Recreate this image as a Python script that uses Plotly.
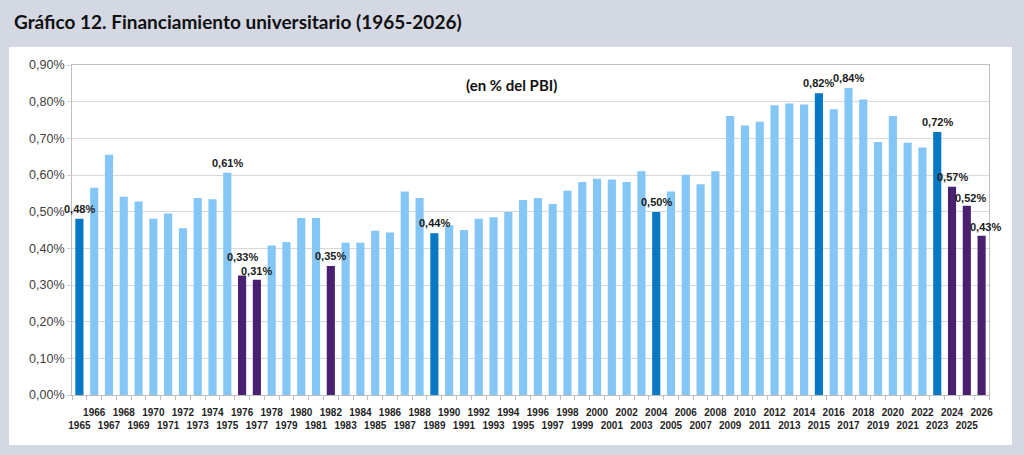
import plotly.graph_objects as go

years = list(range(1965, 2027))
values = [0.481, 0.565, 0.655, 0.541, 0.528, 0.481, 0.495, 0.455, 0.537, 0.534,
          0.606, 0.326, 0.314, 0.408, 0.417, 0.483, 0.483, 0.352, 0.415, 0.415,
          0.448, 0.443, 0.555, 0.537, 0.441, 0.463, 0.450, 0.481, 0.485, 0.499,
          0.532, 0.537, 0.521, 0.557, 0.581, 0.590, 0.588, 0.581, 0.610, 0.499,
          0.555, 0.601, 0.575, 0.610, 0.761, 0.735, 0.745, 0.790, 0.795, 0.792,
          0.823, 0.779, 0.837, 0.806, 0.690, 0.761, 0.688, 0.675, 0.717, 0.568,
          0.516, 0.434]
dark_years = [1965, 1989, 2004, 2015, 2023]
purple_years = [1976, 1977, 1982, 2024, 2025, 2026]
label_years = [1965, 1975, 1976, 1977, 1982, 1989, 2004, 2015, 2017, 2023, 2024, 2025, 2026]
y_ticks = [0, 0.1, 0.2, 0.3, 0.4, 0.5, 0.6, 0.7, 0.8, 0.9]
y_ticktext = ["0,00%", "0,10%", "0,20%", "0,30%", "0,40%", "0,50%", "0,60%", "0,70%", "0,80%", "0,90%"]

# label placement offsets in pixels (style only)
label_shift = {1976: (0, 18), 1977: (0, 9), 2025: (4, 8), 2026: (4, 9)}

LIGHT = "#84c6f6"
DARK = "#0779c4"
PURPLE = "#4a2170"

cats = [str(y) for y in years]
colors = [DARK if y in dark_years else PURPLE if y in purple_years else LIGHT for y in years]
ticktext = [str(y) if y % 2 == 0 else "<br>" + str(y) for y in years]

fig = go.Figure()
fig.add_trace(go.Bar(
    x=cats, y=values, marker=dict(color=colors, line=dict(width=0)),
    hoverinfo="x+y",
))

for i, (y, v) in enumerate(zip(years, values)):
    if y in label_years:
        dx, dy = label_shift.get(y, (0, 10))
        fig.add_annotation(x=i, y=v, text=f"{v:.2f}".replace(".", ",") + "%", showarrow=False,
                           xanchor="center", yanchor="middle", xshift=dx, yshift=dy,
                           font=dict(family="Arial, Liberation Sans", size=11, color="#1a1a1a", weight="bold"))

L, R, T, B = 72, 35, 65, 60
W, H = 1024, 455
pw, ph = W - L - R, H - T - B

def px(x):
    return (x - L) / pw

def py(y):
    return (H - B - y) / ph

fig.add_shape(type="rect", xref="paper", yref="paper",
              x0=px(9), x1=px(1012), y0=py(445), y1=py(47),
              fillcolor="white", line=dict(width=0), layer="below")

fig.add_annotation(xref="paper", yref="paper", x=px(12), y=py(22), xanchor="left", yanchor="middle",
                   text="<b>Gráfico 12. Financiamiento universitario (1965-2026)</b>", showarrow=False,
                   font=dict(family="Lato, Open Sans", size=19, color="#111111"))
fig.add_annotation(xref="paper", yref="paper", x=px(511), y=py(85), xanchor="center", yanchor="middle",
                   text="<b>(en % del PBI)</b>", showarrow=False,
                   font=dict(family="Lato, Open Sans", size=15, color="#111111"))

fig.update_layout(
    width=W, height=H, margin=dict(l=L, r=R, t=T, b=B),
    paper_bgcolor="#d3d8e3", plot_bgcolor="white",
    showlegend=False, bargap=0.45,
    xaxis=dict(type="category", range=[-0.5, len(years) - 0.5],
               tickmode="array", tickvals=cats, ticktext=ticktext,
               tickangle=0, ticks="outside", ticklen=4, tickcolor="#bfbfbf", tickson="boundaries",
               ticklabelstandoff=8,
               showline=True, linecolor="#bfbfbf", mirror=True, showgrid=False,
               tickfont=dict(family="Arial, Liberation Sans", size=10, color="#1f1f1f", weight="bold")),
    yaxis=dict(range=[0, 0.9], tickmode="array", tickvals=y_ticks, ticktext=y_ticktext,
               ticks="outside", ticklen=4, tickcolor="#d0d0d0",
               showgrid=True, gridcolor="#d9d9d9", gridwidth=1,
               showline=True, linecolor="#bfbfbf", mirror=True, zeroline=False,
               tickfont=dict(family="Arial, Liberation Sans", size=12.5, color="#404040")),
)

fig.write_html("out.html")
